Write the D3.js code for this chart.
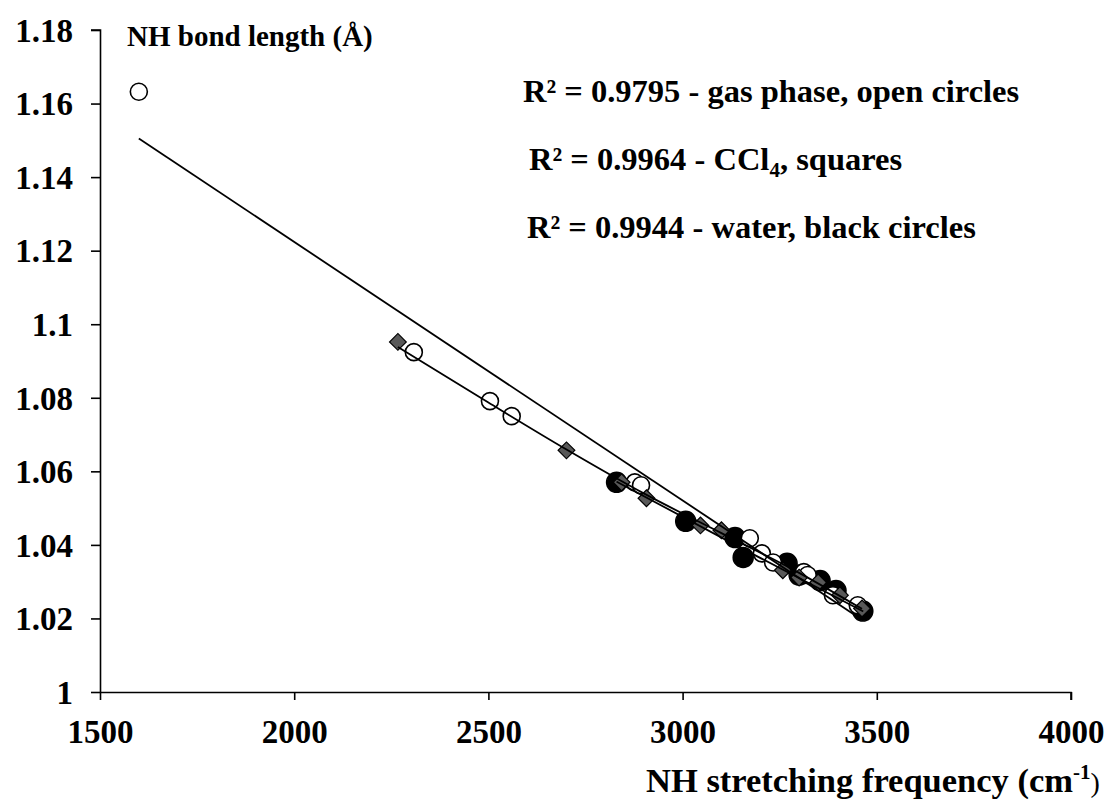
<!DOCTYPE html>
<html>
<head>
<meta charset="utf-8">
<script src="https://cdn.jsdelivr.net/npm/d3@7"></script>
<style>
  html, body { margin: 0; padding: 0; background: #fff; }
  svg text { font-family: "Liberation Serif", "Times New Roman", serif; font-weight: bold; fill: #000; }
</style>
</head>
<body>
<div id="chart"></div>
<script>
// x ticks / y ticks
const xTicks = [1500, 2000, 2500, 3000, 3500, 4000];
const yTicks = [1, 1.02, 1.04, 1.06, 1.08, 1.1, 1.12, 1.14, 1.16, 1.18];

// gas phase, open circles: [frequency, bond length]
const gasFreq = [1600, 2308, 2504, 2560, 2877, 2893, 3173, 3204, 3233, 3312, 3322, 3387, 3451];
const gasLen  = [1.1632, 1.0924, 1.0791, 1.0750, 1.0570, 1.0562, 1.0418, 1.0377, 1.0352, 1.0326, 1.0318, 1.0263, 1.0236];

// CCl4, grey squares
const cclFreq = [2267, 2701, 2843, 2907, 3046, 3100, 3258, 3300, 3349, 3405, 3462];
const cclLen  = [1.0952, 1.0657, 1.0570, 1.0527, 1.0453, 1.0440, 1.0331, 1.0311, 1.0298, 1.0263, 1.0227];

// water, black circles
const watFreq = [2830, 3008, 3135, 3156, 3269, 3300, 3354, 3395, 3464];
const watLen  = [1.0570, 1.0464, 1.0420, 1.0366, 1.0350, 1.0318, 1.0303, 1.0276, 1.0220];

// trendlines
const gasFitFreq = [1600, 3455];
const gasFitLen  = [1.1505, 1.0201];
const cclFitFreq = [2267, 2500, 2700, 2900, 3100, 3300, 3462];
const cclFitLen  = [1.0938, 1.0787, 1.0660, 1.0540, 1.0432, 1.0324, 1.0226];
const watFitFreq = [2830, 3150, 3465];
const watFitLen  = [1.0572, 1.0392, 1.0219];

const width = 1110, height = 803;
const margin = { left: 100, top: 30, right: 39, bottom: 111 };

const svg = d3.select("#chart").append("svg")
  .attr("width", width)
  .attr("height", height);

const x = d3.scaleLinear().domain([1500, 4000]).range([margin.left, width - margin.right]);
const y = d3.scaleLinear().domain([1, 1.18]).range([height - margin.bottom, margin.top]);

const zip = (a, b) => a.map((d, i) => [d, b[i]]);

// axes
const axisX = d3.axisBottom(x).tickValues(xTicks).tickSize(8).tickFormat(d3.format("d"));
const axisY = d3.axisLeft(y).tickValues(yTicks).tickSize(9).tickFormat(d => String(+d.toFixed(2)));

const gx = svg.append("g")
  .attr("transform", `translate(0,${y(1)})`)
  .call(axisX);
const gy = svg.append("g")
  .attr("transform", `translate(${x(1500)},0)`)
  .call(axisY);

[gx, gy].forEach(g => {
  g.select(".domain").attr("stroke", "#000").attr("stroke-width", 1.6);
  g.selectAll(".tick line").attr("stroke", "#000").attr("stroke-width", 1.6);
  g.selectAll(".tick text").attr("fill", "#000")
    .style("font-family", "'Liberation Serif', 'Times New Roman', serif")
    .style("font-weight", "bold")
    .style("font-size", "33px");
});
gx.select(".domain").attr("d", `M${x(1500)},0.5H${x(4000)}V8`);
gy.select(".domain").attr("d", `M-9,${y(1.18)}H0.5V${y(1)}`);
gx.selectAll(".tick text").attr("y", 25).attr("dy", "0.8em");
gy.selectAll(".tick text").attr("x", -27).attr("dy", "0.34em");

// markers
const water = svg.append("g");
water.selectAll("circle")
  .data(zip(watFreq, watLen))
  .enter().append("circle")
  .attr("cx", d => x(d[0]))
  .attr("cy", d => y(d[1]))
  .attr("r", 10)
  .attr("fill", "#000")
  .attr("stroke", "#000")
  .attr("stroke-width", 1.5);

const gas = svg.append("g");
gas.selectAll("circle")
  .data(zip(gasFreq, gasLen))
  .enter().append("circle")
  .attr("cx", d => x(d[0]))
  .attr("cy", d => y(d[1]))
  .attr("r", 8.5)
  .attr("fill", "#fff")
  .attr("stroke", "#000")
  .attr("stroke-width", 1.6);

const squares = svg.append("g");
squares.selectAll("path")
  .data(zip(cclFreq, cclLen))
  .enter().append("path")
  .attr("d", d3.symbol(d3.symbolSquare, 140))
  .attr("transform", d => `translate(${x(d[0])},${y(d[1])}) rotate(45)`)
  .attr("fill", "#595959")
  .attr("stroke", "#000")
  .attr("stroke-width", 1.2);

// trendlines, drawn over the markers
const line = d3.line().x(d => x(d[0])).y(d => y(d[1])).curve(d3.curveMonotoneX);
[[gasFitFreq, gasFitLen], [cclFitFreq, cclFitLen], [watFitFreq, watFitLen]].forEach(([f, l]) => {
  svg.append("path")
    .datum(zip(f, l))
    .attr("d", line)
    .attr("fill", "none")
    .attr("stroke", "#000")
    .attr("stroke-width", 1.8);
});

// titles
svg.append("text")
  .attr("x", 127).attr("y", 46)
  .style("font-size", "29px")
  .text("NH bond length (Å)");

const xt = svg.append("text")
  .attr("x", 646).attr("y", 792)
  .style("font-size", "34.5px");
xt.append("tspan").text("NH stretching frequency (cm");
xt.append("tspan").attr("dy", -13).style("font-size", "21px").text("-1");
xt.append("tspan").attr("dy", 13).style("font-weight", "normal").style("font-size", "28px").text(")");

// R² notes
const note1 = svg.append("text").attr("x", 523).attr("y", 102).style("font-size", "32.5px");
note1.text("R² = 0.9795 - gas phase, open circles");

const note2 = svg.append("text").attr("x", 529).attr("y", 170).style("font-size", "32.5px");
note2.append("tspan").text("R² = 0.9964 - CCl");
note2.append("tspan").attr("dy", 7).style("font-size", "21px").text("4");
note2.append("tspan").attr("dy", -7).text(", squares");

const note3 = svg.append("text").attr("x", 527).attr("y", 238).style("font-size", "32.5px");
note3.text("R² = 0.9944 - water, black circles");
</script>
</body>
</html>
